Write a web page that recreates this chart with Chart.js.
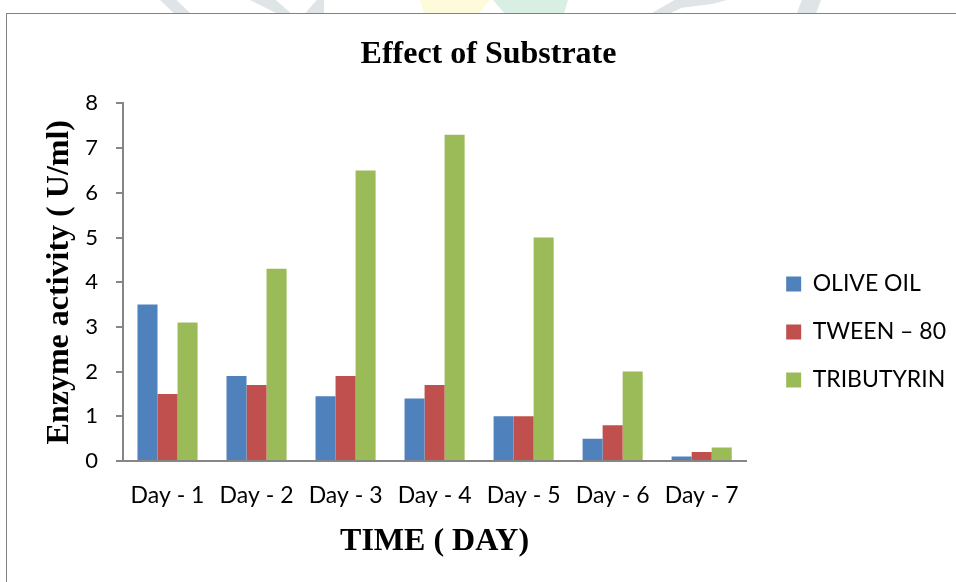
<!DOCTYPE html>
<html>
<head>
<meta charset="utf-8">
<title>Effect of Substrate</title>
<script src="https://cdn.jsdelivr.net/npm/chart.js@4/dist/chart.umd.min.js"></script>
<style>
  html, body { margin: 0; padding: 0; background: #ffffff; }
  #page { position: relative; width: 956px; height: 582px; overflow: hidden; background: #ffffff; }
  .mark { position: absolute; top: 0; height: 13px; }
  #frame { position: absolute; left: 6px; top: 13px; right: -2px; bottom: -2px;
           border-left: 1px solid #828282; border-top: 1px solid #828282; }
  #c { position: absolute; left: 0; top: 0; }
</style>
</head>
<body>
<div id="page">
  <!-- faint header artwork above the frame -->
  <div class="mark" style="left:160px;width:30px;background:#dfe5e6;clip-path:polygon(0 0,55% 0,100% 100%,45% 100%);"></div>
  <div class="mark" style="left:250px;width:74px;background:#dfe5e6;clip-path:polygon(0 0,35% 0,55% 100%,75% 100%,90% 0,100% 0,100% 100%,35% 100%);"></div>
  <div class="mark" style="left:420px;width:70px;background:#fdfbdc;clip-path:polygon(0 0,100% 0,85% 100%,5% 100%);"></div>
  <div class="mark" style="left:493px;width:75px;background:#d9efe4;clip-path:polygon(0 0,100% 0,95% 100%,15% 100%);"></div>
  <div class="mark" style="left:652px;width:75px;background:#dfe5e6;clip-path:polygon(0 100%,30% 0,100% 0,80% 30%,40% 60%,25% 100%);"></div>
  <div class="mark" style="left:797px;width:24px;background:#dfe5e6;clip-path:polygon(20% 0,100% 0,80% 100%,0 100%);"></div>
  <div id="frame"></div>
  <canvas id="c" width="956" height="582"></canvas>
</div>
<script>
// Days of the trial and enzyme activity (U/ml) per substrate
const categories = ['Day - 1', 'Day - 2', 'Day - 3', 'Day - 4', 'Day - 5', 'Day - 6', 'Day - 7'];
const oliveOil   = [3.5, 1.9, 1.45, 1.4, 1.0, 0.5, 0.1];
const tween80    = [1.5, 1.7, 1.9, 1.7, 1.0, 0.8, 0.2];
const tributyrin = [3.1, 4.3, 6.5, 7.3, 5.0, 2.0, 0.3];
const seriesNames = ['OLIVE OIL', 'TWEEN \u2013 80', 'TRIBUTYRIN'];
const yMin = 0, yMax = 8, yStep = 1;

const axisGrey = '#868686';
const serif = "'Liberation Serif', 'Times New Roman', serif";
const sans = "Lato, 'Noto Sans', sans-serif";

const bar = (label, data, color) => ({
  label, data, backgroundColor: color, borderWidth: 0,
  categoryPercentage: 0.675, barPercentage: 1.0
});

new Chart(document.getElementById('c'), {
  type: 'bar',
  data: {
    labels: categories,
    datasets: [
      bar(seriesNames[0], oliveOil, '#4f81bd'),
      bar(seriesNames[1], tween80, '#c0504d'),
      bar(seriesNames[2], tributyrin, '#9bbb59')
    ]
  },
  options: {
    responsive: false,
    animation: false,
    devicePixelRatio: 1,
    layout: { padding: { left: 21, right: 0, top: 0, bottom: 0 } },
    plugins: {
      tooltip: { enabled: false },
      title: {
        display: true,
        text: 'Effect of Substrate',
        color: '#000000',
        font: { family: serif, size: 32, weight: 'bold', lineHeight: 1.2 },
        padding: { top: 36, bottom: 29 }
      },
      legend: {
        position: 'right',
        align: 'center',
        maxWidth: 196,
        // blank title used as top spacing for the key
        title: { display: true, text: ' ', font: { size: 10, lineHeight: 1.2 }, padding: { top: 70, bottom: 0 } },
        labels: {
          boxWidth: 15,
          boxHeight: 15,
          padding: 25,
          color: '#000000',
          font: { family: sans, size: 23 }
        }
      }
    },
    scales: {
      x: {
        grid: { display: false, drawTicks: false },
        border: { display: true, color: axisGrey, width: 2 },
        ticks: { color: '#000000', padding: 21, maxRotation: 0, font: { family: sans, size: 23 } },
        title: {
          display: true,
          text: 'TIME ( DAY)',
          color: '#000000',
          font: { family: serif, size: 32, weight: 'bold', lineHeight: 1.2 },
          padding: { top: 0, bottom: 21 }
        },
        afterFit: (s) => { s.height = 121; }
      },
      y: {
        min: yMin,
        max: yMax,
        ticks: { stepSize: yStep, color: '#000000', padding: 18, font: { family: sans, size: 22 } },
        grid: { drawOnChartArea: false, drawTicks: true, tickLength: 7, color: axisGrey, lineWidth: 2 },
        border: { display: true, color: axisGrey, width: 2 },
        title: {
          display: true,
          text: 'Enzyme activity ( U/ml)',
          color: '#000000',
          font: { family: serif, size: 32, weight: 'bold', lineHeight: 1.2 },
          padding: { top: 20, bottom: 0 }
        },
        afterFit: (s) => { s.width = 102; }
      },
      // spacer between the plot and the key
      gap: {
        type: 'linear',
        axis: 'y',
        position: 'right',
        display: true,
        grid: { display: false, drawTicks: false },
        border: { display: false },
        ticks: { display: false },
        afterFit: (s) => { s.width = 15; }
      }
    }
  }
});
</script>
</body>
</html>
